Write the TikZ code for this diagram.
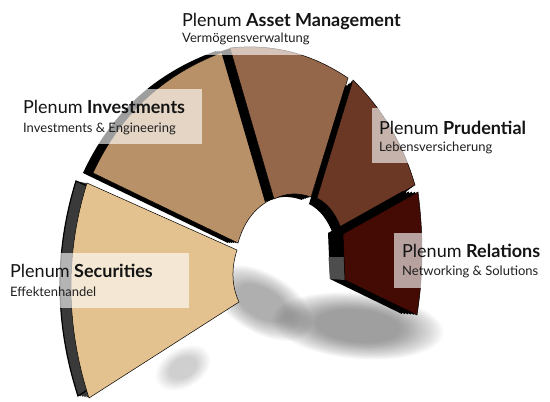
\documentclass[tikz,border=0pt]{standalone}
\usepackage{fontspec}
\setmainfont{Lato}
\definecolor{cSec}{HTML}{E3C28F}
\definecolor{cInv}{HTML}{B99169}
\definecolor{cAM}{HTML}{94664A}
\definecolor{cPru}{HTML}{6B3826}
\definecolor{cRel}{HTML}{430B04}
\definecolor{cSideSec}{HTML}{3A3A3A}
\definecolor{cSideRel}{HTML}{4D4D4D}
\begin{document}
\begin{tikzpicture}[x=1pt,y=-1pt,
  lbltitle/.style={anchor=base west, inner sep=0pt, font=\fontsize{18}{21}\selectfont, text=black!92},
  lblsub/.style={anchor=base west, inner sep=0pt, font=\fontsize{13}{15}\selectfont, text=black!88},
  lbox/.style={fill=white, fill opacity=0.62},
  face/.style={draw=black, line width=0.5pt},
  shadowlayer/.style={fill=black, opacity=0.018}]
\useasboundingbox (0,0) rectangle (550,402);

% piece outlines (pixel coordinates, y downward)
\def\pSec{(87,183) .. controls (65,254) and (65.7,325.7) .. (89,398) -- (239,302) .. controls (231.7,286) and (231,268.7) .. (237,250) -- cycle}
\def\pInv{(93,173) .. controls (120.3,113.7) and (164.7,73) .. (226,51) -- (270,200) .. controls (253.6,208.7) and (243.6,223.1) .. (238,243) -- cycle}
\def\pAM{(230,48) .. controls (272,43.3) and (311.3,53.3) .. (348,78) -- (311,197) .. controls (298,192.3) and (285.7,193) .. (274,199) -- cycle}
\def\pPru{(353,80) .. controls (382.3,108.7) and (403,143.7) .. (415,185) -- (341,228) .. controls (335.7,214.3) and (328.3,203.7) .. (317,198) -- cycle}
\def\pRel{(418,192) .. controls (423.7,235) and (423.3,276) .. (417,315) -- (345,280) -- (343,234) -- cycle}

% soft shadow
\foreach \i in {0,...,23}{
  \pgfmathsetmacro{\s}{1.0-0.022*\i}
  \fill[shadowlayer, opacity=0.015, rotate around={-30:(262,303)}] (262,303) ellipse [x radius=\s*56pt, y radius=\s*30pt];
  \fill[shadowlayer, rotate around={-5:(358,326)}] (358,326) ellipse [x radius=\s*86pt, y radius=\s*33pt];
  \fill[shadowlayer, opacity=0.007, rotate around={30:(183,368)}] (183,368) ellipse [x radius=\s*30pt, y radius=\s*20pt];
}

% Securities
\foreach \t in {0.2,0.4,0.6,0.8,1}{\fill[cSideSec, shift={({-11*\t},{-2*\t})}] \pSec;}
\draw[black, line width=1.2pt, shift={(-11,-2)}] \pSec;
\filldraw[fill=cSec, face] \pSec;

% Investments
\foreach \t in {0.2,0.4,0.6,0.8,1}{\fill[black, shift={({-10*\t},{0*\t})}] \pInv;}
\filldraw[fill=cInv, face] \pInv;

% Asset Management
\foreach \t in {0.2,0.4,0.6,0.8,1}{\fill[black, shift={({-9*\t},{3*\t})}] \pAM;}
\filldraw[fill=cAM, face] \pAM;

% Prudential
\foreach \t in {0.2,0.4,0.6,0.8,1}{\fill[black, shift={({-8*\t},{6*\t})}] \pPru;}
\filldraw[fill=cPru, face] \pPru;

% Relations
\foreach \t in {0.2,0.4,0.6,0.8,1}{\fill[black, shift={({-15*\t},{-1*\t})}] \pRel;}
\fill[cSideRel] (328.5,257) -- (344,257) -- (345,280) -- (330,279) -- cycle;
\filldraw[fill=cRel, face] \pRel;

% label boxes
\fill[lbox] (55,253) rectangle (189,308);
\fill[lbox] (62,89) rectangle (202,144);
\fill[lbox] (176,6) rectangle (347,55);
\fill[lbox] (372,108) rectangle (512,163);
\fill[lbox] (394,233) rectangle (534,288);

% labels
\node[lbltitle] (tSec) at (10,277) {Plenum \textbf{Securities}};
\node[lblsub]   (sSec) at (10,296) {Effektenhandel};
\node[lbltitle] (tInv) at (23,113) {Plenum \textbf{Investments}};
\node[lblsub]   (sInv) at (23,132) {Investments \& Engineering};
\node[lbltitle] (tAM)  at (182,26) {Plenum \textbf{Asset Management}};
\node[lblsub]   (sAM)  at (182,42) {Vermögensverwaltung};
\node[lbltitle] (tPru) at (379,134) {Plenum \textbf{Prudential}};
\node[lblsub]   (sPru) at (379,151) {Lebensversicherung};
\node[lbltitle] (tRel) at (402,257) {Plenum \textbf{Relations}};
\node[lblsub]   (sRel) at (402,275) {Networking \& Solutions};
\end{tikzpicture}
\end{document}
